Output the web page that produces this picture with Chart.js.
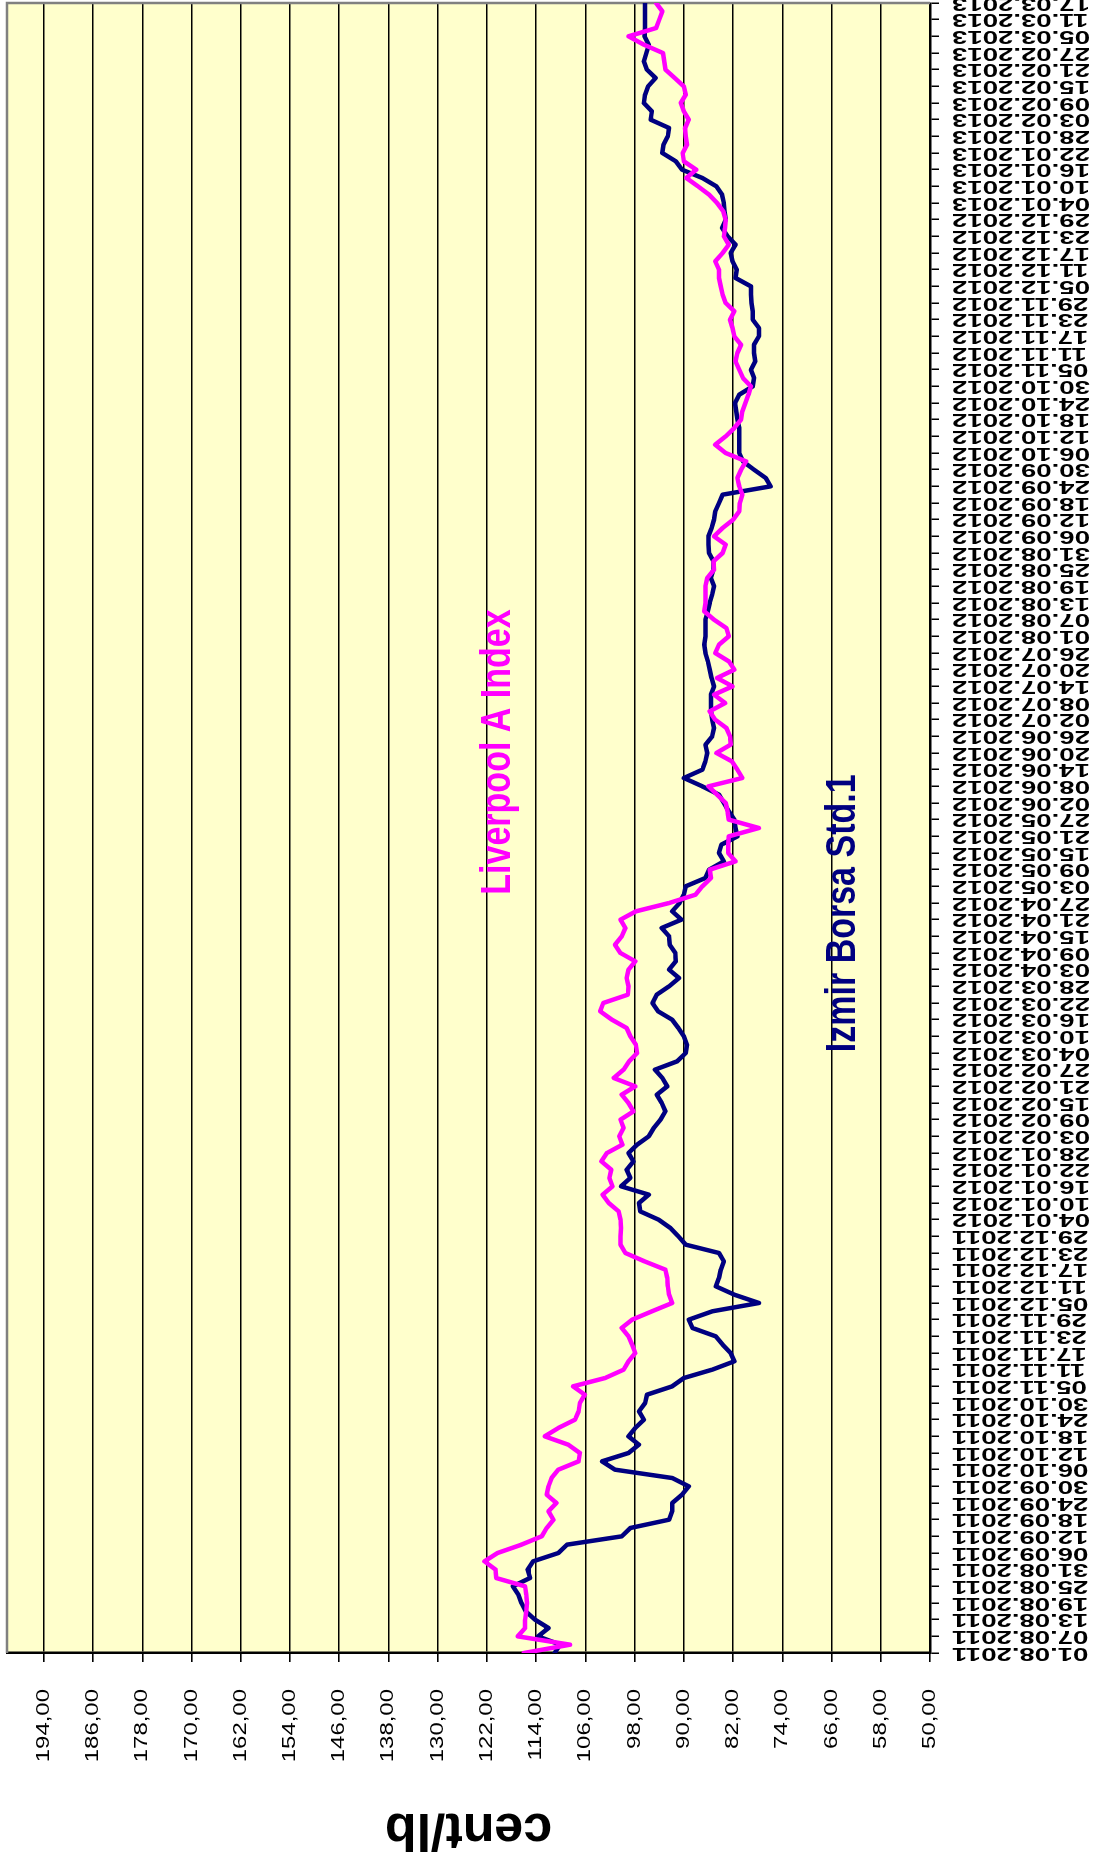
<!DOCTYPE html>
<html>
<head>
<meta charset="utf-8">
<script src="https://cdn.jsdelivr.net/npm/chart.js"></script>
<style>
html, body { margin:0; padding:0; background:#ffffff; overflow:hidden; width:1093px; height:1865px; }
#wrap { position:absolute; left:0; top:0; width:1865px; height:1093px; transform-origin:0 0; transform:translateY(1865px) rotate(-90deg); }
canvas { display:block; }
</style>
</head>
<body>
<div id="wrap"><canvas id="c" width="1865" height="1093"></canvas></div>
<script>
// ---------- data ----------
const dateLabels = [
  "01.08.2011","07.08.2011","13.08.2011","19.08.2011","25.08.2011","31.08.2011",
  "06.09.2011","12.09.2011","18.09.2011","24.09.2011","30.09.2011",
  "06.10.2011","12.10.2011","18.10.2011","24.10.2011","30.10.2011",
  "05.11.2011","11.11.2011","17.11.2011","23.11.2011","29.11.2011",
  "05.12.2011","11.12.2011","17.12.2011","23.12.2011","29.12.2011",
  "04.01.2012","10.01.2012","16.01.2012","22.01.2012","28.01.2012",
  "03.02.2012","09.02.2012","15.02.2012","21.02.2012","27.02.2012",
  "04.03.2012","10.03.2012","16.03.2012","22.03.2012","28.03.2012",
  "03.04.2012","09.04.2012","15.04.2012","21.04.2012","27.04.2012",
  "03.05.2012","09.05.2012","15.05.2012","21.05.2012","27.05.2012",
  "02.06.2012","08.06.2012","14.06.2012","20.06.2012","26.06.2012",
  "02.07.2012","08.07.2012","14.07.2012","20.07.2012","26.07.2012",
  "01.08.2012","07.08.2012","13.08.2012","19.08.2012","25.08.2012","31.08.2012",
  "06.09.2012","12.09.2012","18.09.2012","24.09.2012","30.09.2012",
  "06.10.2012","12.10.2012","18.10.2012","24.10.2012","30.10.2012",
  "05.11.2012","11.11.2012","17.11.2012","23.11.2012","29.11.2012",
  "05.12.2012","11.12.2012","17.12.2012","23.12.2012","29.12.2012",
  "04.01.2013","10.01.2013","16.01.2013","22.01.2013","28.01.2013",
  "03.02.2013","09.02.2013","15.02.2013","21.02.2013","27.02.2013",
  "05.03.2013","11.03.2013","17.03.2013"
];

const valueTicks = [50, 58, 66, 74, 82, 90, 98, 106, 114, 122, 130, 138, 146, 154, 162, 170, 178, 186, 194];
const valueMin = 50;
const valueMax = 200;

// two readings per date label interval
const samplesPerLabel = 2;

const liverpoolIndex = [
  116.0,108.5,117.0,115.8,115.8,115.6,115.5,115.6,115.8,120.5,
  120.6,122.4,120.3,116.4,113.1,112.3,111.2,112.0,110.7,112.3,
  112.0,111.5,110.4,107.1,106.9,108.8,112.6,110.4,107.7,107.1,
  106.9,106.1,108.0,102.8,99.8,99.0,97.9,98.4,99.0,100.1,
  98.4,95.2,91.9,92.4,92.6,92.7,93.0,96.4,99.5,100.3,
  100.3,100.2,100.3,100.6,102.2,103.2,101.6,102.1,101.8,103.4,
  102.5,100.0,100.5,99.8,100.3,98.2,99.0,100.1,97.9,101.4,
  99.8,98.9,97.6,97.8,98.7,99.3,101.7,103.6,103.1,99.1,
  99.0,99.3,99.0,97.9,100.3,101.2,100.1,99.5,100.3,97.8,
  92.4,88.1,87.0,85.6,85.8,81.6,82.8,82.8,82.7,77.8,
  82.7,82.9,83.2,84.6,86.0,80.5,81.3,82.2,84.7,82.4,
  82.5,83.1,84.9,85.8,83.3,85.1,82.1,84.6,81.8,82.7,
  84.9,84.3,82.7,83.1,85.1,86.7,86.5,86.5,86.5,86.2,
  85.1,85.2,83.7,83.2,85.1,83.7,82.0,81.0,80.9,80.5,
  81.0,81.3,80.7,79.9,83.2,84.9,83.2,81.8,80.7,80.5,
  80.0,79.5,79.1,80.4,81.0,81.6,81.3,80.7,81.8,82.1,
  82.5,81.8,83.2,83.7,84.0,84.3,84.3,84.9,83.7,82.7,
  83.5,83.3,83.2,83.6,84.6,85.9,87.7,89.6,88.0,90.0,
  90.2,89.5,89.7,89.8,89.2,90.0,90.5,89.7,90.0,91.5,
  93.0,93.2,93.4,96.5,99.0,94.5,94.0,93.5,94.5
];

const izmirBorsa = [
  111.0,110.1,113.7,112.0,114.2,115.7,116.4,116.9,117.8,115.0,
  115.4,114.5,110.4,109.0,100.1,98.7,92.4,91.9,91.9,90.3,
  89.2,91.9,101.2,103.3,99.0,97.3,99.0,97.9,96.5,97.3,
  96.3,96.0,91.9,90.0,85.4,81.8,82.4,83.7,84.8,88.6,
  89.2,85.4,77.8,81.8,84.8,84.3,84.0,83.5,84.3,89.7,
  90.9,92.2,94.1,97.1,97.3,95.7,100.2,98.7,99.3,98.2,
  99.0,97.6,95.7,94.9,93.8,93.0,93.6,94.4,92.7,93.5,
  94.7,91.1,89.7,89.5,90.0,90.9,91.9,94.2,95.1,94.4,
  92.4,90.8,92.4,91.3,91.4,92.3,92.4,93.6,90.4,91.9,
  90.7,90.0,89.7,86.5,85.9,83.5,84.3,83.9,81.3,81.6,
  81.8,82.7,83.5,84.3,87.0,90.0,87.0,86.5,86.2,86.5,
  85.4,85.1,85.4,85.6,85.6,85.6,85.1,85.5,85.8,86.1,
  86.5,86.7,86.5,86.5,86.5,86.1,85.8,85.4,85.1,85.6,
  85.2,85.2,85.9,86.0,86.0,85.5,85.1,84.9,84.3,83.7,
  75.9,76.7,78.6,80.4,81.0,81.0,81.0,81.0,81.3,81.5,
  81.7,81.0,78.8,78.6,79.1,78.4,78.6,78.6,77.8,77.8,
  78.8,78.8,79.0,79.1,79.1,81.6,81.4,82.1,82.4,81.6,
  82.9,83.8,83.2,83.4,83.5,83.8,84.7,87.0,90.3,91.3,
  93.5,93.3,92.6,92.4,95.4,95.2,96.5,96.3,95.8,94.6,
  96.0,96.5,96.1,95.7,96.4,96.3,96.3,96.3,96.3
];

const seriesNames = ["Liverpool A Index", "Izmir Borsa Std.1"];
const seriesColors = ["#FF00FF", "#000080"];
const axisTitle = "cent/lb";

// in-plot series captions: [label index, value at baseline]
const captionAnchors = [[45.5, 118.3], [36.05, 62.2]];

// ---------- drawing ----------
const FONT = '"Liberation Sans", Arial, Helvetica, sans-serif';
const toPoints = arr => arr.map((v, i) => ({ x: i / samplesPerLabel, y: v }));
const fmtValue = v => v.toFixed(2).replace('.', ',');

const plotPlugin = {
  id: 'plotDecor',
  beforeDraw(chart) {
    const { ctx, chartArea: a } = chart;
    ctx.save();
    ctx.fillStyle = '#FFFFCC';
    ctx.fillRect(a.left, a.top, a.right - a.left, a.bottom - a.top);
    ctx.restore();
  },
  beforeDatasetsDraw(chart) {
    const { ctx, chartArea: a } = chart;
    ctx.save();
    ctx.strokeStyle = '#808080';
    ctx.lineWidth = 2.5;
    ctx.beginPath();
    ctx.moveTo(a.left, a.top);
    ctx.lineTo(a.right, a.top);
    ctx.lineTo(a.right, a.bottom);
    ctx.stroke();
    ctx.restore();
  },
  afterDraw(chart) {
    const { ctx, chartArea: a, scales: { x, y } } = chart;
    ctx.save();
    ctx.fillStyle = '#000000';

    // category (date) labels
    ctx.font = 'bold 19px ' + FONT;
    ctx.textAlign = 'right';
    ctx.textBaseline = 'middle';
    dateLabels.forEach((lab, i) => {
      const px = x.getPixelForValue(i);
      ctx.save();
      ctx.translate(px, a.bottom + 22);
      ctx.rotate(-Math.PI / 2);
      ctx.scale(1.45, 1);
      ctx.fillText(lab, 0, 0);
      ctx.restore();
    });

    // value labels
    ctx.font = '18px ' + FONT;
    valueTicks.forEach(v => {
      const py = y.getPixelForValue(v);
      ctx.save();
      ctx.translate(a.left - 36, py);
      ctx.scale(1.33, 1);
      ctx.fillText(fmtValue(v), 0, 0);
      ctx.restore();
    });

    // axis title
    ctx.save();
    ctx.font = 'bold 52px ' + FONT;
    ctx.textAlign = 'center';
    ctx.textBaseline = 'alphabetic';
    ctx.translate(51, (a.top + a.bottom) / 2);
    ctx.rotate(-Math.PI / 2);
    ctx.fillText(axisTitle, 0, 0);
    ctx.restore();

    // series captions
    ctx.font = 'bold 34px ' + FONT;
    ctx.textAlign = 'left';
    ctx.textBaseline = 'alphabetic';
    captionAnchors.forEach((p, k) => {
      ctx.save();
      ctx.fillStyle = seriesColors[k];
      ctx.translate(x.getPixelForValue(p[0]), y.getPixelForValue(p[1]));
      ctx.scale(1, 1.25);
      ctx.fillText(seriesNames[k], 0, 0);
      ctx.restore();
    });
    ctx.restore();
  }
};

const ctx = document.getElementById('c').getContext('2d');
new Chart(ctx, {
  type: 'line',
  data: {
    datasets: [
      { label: seriesNames[0], data: toPoints(liverpoolIndex), borderColor: seriesColors[0], backgroundColor: seriesColors[0],
        borderWidth: 4.5, pointRadius: 0, tension: 0, borderJoinStyle: 'round', borderCapStyle: 'round', fill: false },
      { label: seriesNames[1], data: toPoints(izmirBorsa), borderColor: seriesColors[1], backgroundColor: seriesColors[1],
        borderWidth: 4.5, pointRadius: 0, tension: 0, borderJoinStyle: 'round', borderCapStyle: 'round', fill: false }
    ]
  },
  options: {
    responsive: false,
    animation: false,
    devicePixelRatio: 1,
    layout: { padding: { top: 7, right: 3, left: 0, bottom: 0 } },
    plugins: { legend: { display: false }, tooltip: { enabled: false }, title: { display: false } },
    scales: {
      x: {
        type: 'linear',
        min: 0,
        max: dateLabels.length - 1,
        afterBuildTicks: s => { s.ticks = dateLabels.map((_, i) => ({ value: i })); },
        afterFit: s => { s.height = 163; s.paddingLeft = 0; s.paddingRight = 0; },
        ticks: { display: false },
        grid: { drawOnChartArea: false, drawTicks: true, tickLength: 9, color: '#000000', lineWidth: 1.5 },
        border: { display: true, color: '#000000', width: 2.5 }
      },
      y: {
        type: 'linear',
        min: valueMin,
        max: valueMax,
        afterBuildTicks: s => { s.ticks = valueTicks.map(v => ({ value: v })); },
        afterFit: s => { s.width = 212; s.paddingTop = 0; s.paddingBottom = 0; },
        ticks: { display: false },
        grid: { color: '#000000', lineWidth: 1.6, drawTicks: true, tickLength: 9 },
        border: { display: true, color: '#000000', width: 2.5 }
      }
    }
  },
  plugins: [plotPlugin]
});
</script>
</body>
</html>
